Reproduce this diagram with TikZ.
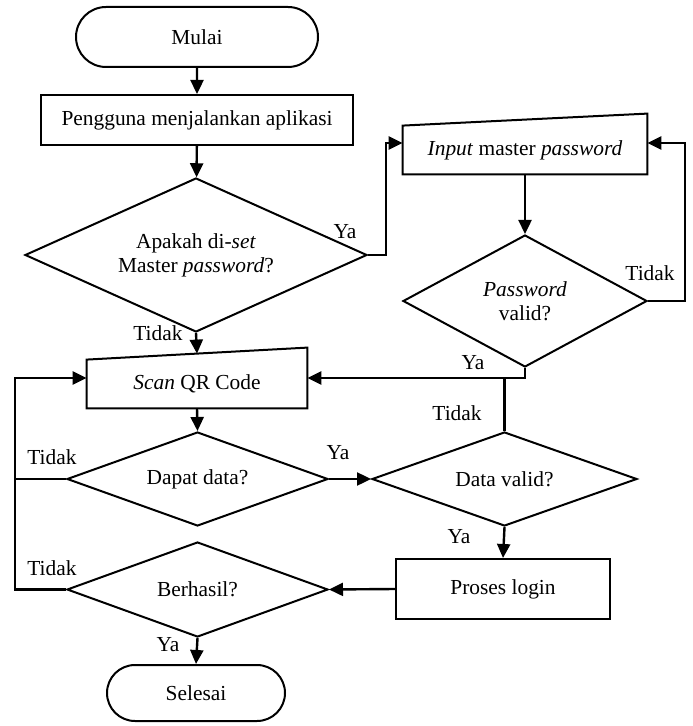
\documentclass[tikz,border=0pt]{standalone}
\usepackage{fontspec}
\setmainfont{Liberation Serif}
\usetikzlibrary{shapes.geometric,shapes.misc,arrows.meta,calc}
\begin{document}
\begin{tikzpicture}[x=0.5pt,y=-0.5pt,
  every node/.style={font=\fontsize{10.7}{12}\selectfont},
  box/.style={draw, line width=1pt, inner sep=0pt, align=center},
  procbox/.style={box, rectangle},
  termbox/.style={box, rounded rectangle},
  decbox/.style={box, diamond, shape aspect=2},
  iobox/.style={rectangle, inner sep=0pt, align=center},
  ioline/.style={line width=1pt},
  flow/.style={line width=1.2pt, -{Triangle[length=7pt,width=6.5pt]}},
  link/.style={line width=1.2pt},
  lbl/.style={inner sep=0pt}
]
\useasboundingbox (0,0) rectangle (692,726);

% terminals and steps
\node[termbox, minimum width=121pt, minimum height=30pt] (mulai) at (197,37) {Mulai};
\node[procbox, minimum width=156pt, minimum height=25pt] (app) at (197,120) {Pengguna menjalankan aplikasi};
\node[decbox, minimum width=171pt, minimum height=77pt] (set) at (196,255) {Apakah di-\textit{set}\\Master \textit{password}?};
\node[iobox, minimum width=122pt, minimum height=24pt] (inp) at (525,150) {\textit{Input} master \textit{password}};
\node[decbox, minimum width=122pt, minimum height=66pt] (pv) at (525,301) {\textit{Password}\\valid?};
\node[iobox, minimum width=110pt, minimum height=24pt] (scan) at (197,384) {\textit{Scan} QR Code};
\node[decbox, minimum width=130.5pt, minimum height=47pt] (dapat) at (197.5,479) {Dapat data?};
\node[decbox, minimum width=132.5pt, minimum height=47pt] (dv) at (504.5,479) {Data valid?};
\node[procbox, minimum width=107pt, minimum height=30pt] (login) at (503,589) {Proses login};
\node[decbox, minimum width=130.5pt, minimum height=47.5pt] (berhasil) at (197.5,589.5) {Berhasil?};
\node[termbox, minimum width=89pt, minimum height=28pt] (selesai) at (196,693) {Selesai};

% manual input outlines (slanted top edge)
\draw[ioline] (inp.south west) -- (inp.south east) -- ($(inp.north east)+(0,-12)$) -- (inp.north west) -- cycle;
\draw[ioline] (scan.south west) -- (scan.south east) -- ($(scan.north east)+(0,-12)$) -- (scan.north west) -- cycle;

% entry points on the manual input boxes
\coordinate (inpL) at ($(inp.west)+(0,-7)$);
\coordinate (inpR) at ($(inp.east)+(0,-7)$);
\coordinate (scanL) at ($(scan.west)+(0,-6)$);
\coordinate (scanR) at ($(scan.east)+(0,-6)$);
\coordinate (scanT) at ($(scan.north)+(0,-6)$);

% connectors
\draw[flow] (mulai) -- (app);
\draw[flow] (app) -- (set);
\draw[flow] (set.east) -- ++(18,0) |- (inpL);
\draw[flow] (inp.south) -- (pv.north);
\draw[flow] (pv.east) -- ++(37,0) |- (inpR);
\draw[flow] (pv.south) |- (scanR);
\draw[link] (dv.north) -- (dv.north |- scanR);
\draw[flow] (set.south) -- (scanT);
\draw[flow] (scan.south) -- (dapat.north);
\draw[flow] (dapat.west) -- ++(-51,0) |- (scanL);
\draw[flow] (dapat.east) -- (dv.west);
\draw[flow] (dv.south) -- (login.north);
\draw[flow] (login.west) -- (berhasil.east);
\draw[link] (berhasil.west) -- ++(-51,0) coordinate (bl) -- (bl |- dapat.west);
\draw[flow] (berhasil.south) -- (selesai.north);

% branch labels
\node[lbl] (ya1) at (345,232) {Ya};
\node[lbl] (tidak1) at (158,333) {Tidak};
\node[lbl] (tidak2) at (650,273) {Tidak};
\node[lbl] (ya2) at (473,363) {Ya};
\node[lbl] (tidak3) at (457,413) {Tidak};
\node[lbl] (tidak4) at (52,457) {Tidak};
\node[lbl] (ya3) at (338,453) {Ya};
\node[lbl] (ya4) at (459,537) {Ya};
\node[lbl] (tidak5) at (52,568) {Tidak};
\node[lbl] (ya5) at (168,645) {Ya};
\end{tikzpicture}
\end{document}
